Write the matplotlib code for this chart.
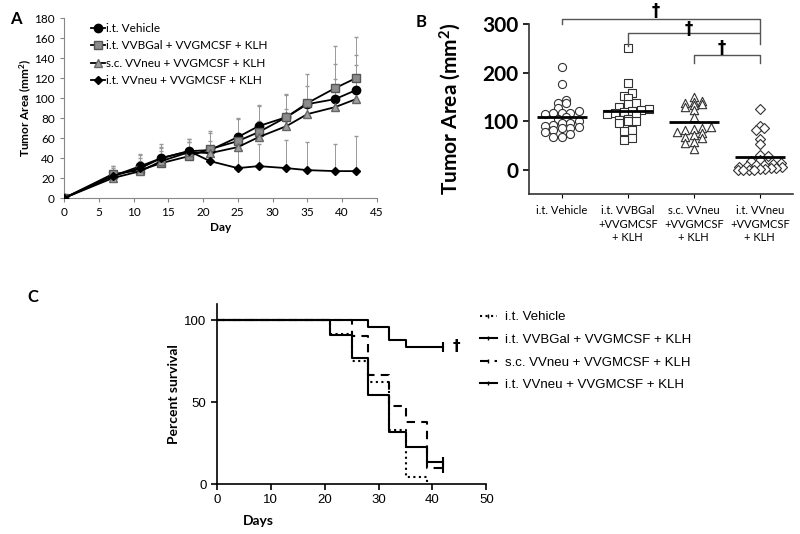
import numpy as np
import matplotlib
matplotlib.use('Agg')
import matplotlib.pyplot as plt
from matplotlib.lines import Line2D

plt.rcParams['font.family'] = ['Lato', 'DejaVu Sans']
plt.rcParams['mathtext.default'] = 'regular'

# ---- Panel A: tumor growth over time ----
days = [0, 7, 11, 14, 18, 21, 25, 28, 32, 35, 39, 42]
growth_labels = ['i.t. Vehicle', 'i.t. VVBGal + VVGMCSF + KLH',
                 's.c. VVneu + VVGMCSF + KLH', 'i.t. VVneu + VVGMCSF + KLH']
veh_mean = [0, 22, 32, 40, 47, 48, 61, 72, 81, 94, 99, 108]
veh_err = [0, 10, 12, 14, 12, 17, 18, 20, 22, 18, 35, 35]
bgal_mean = [0, 24, 28, 35, 42, 49, 57, 66, 81, 95, 110, 120]
bgal_err = [0, 8, 15, 16, 17, 18, 23, 27, 23, 29, 42, 41]
scneu_mean = [0, 20, 27, 37, 46, 45, 51, 61, 72, 84, 91, 99]
scneu_err = [0, 8, 10, 10, 10, 12, 14, 16, 17, 14, 28, 34]
itneu_mean = [0, 22, 30, 40, 47, 37, 30, 32, 30, 28, 27, 27]
itneu_err = [0, 8, 10, 10, 9, 10, 20, 22, 28, 28, 27, 35]

# ---- Panel B: tumor area per mouse ----
group_labels = ['i.t. Vehicle', 'i.t. VVBGal\n+VVGMCSF\n+ KLH',
                's.c. VVneu\n+VVGMCSF\n+ KLH', 'i.t. VVneu\n+VVGMCSF\n+ KLH']
area_vehicle = [211, 176, 143, 138, 137, 126, 121, 116, 116, 116, 114, 109, 105,
                100, 97, 95, 92, 90, 88, 85, 85, 81, 78, 74, 68, 67]
area_bgal = [250, 179, 157, 152, 148, 137, 135, 130, 125, 122, 120, 118, 116,
             115, 112, 105, 102, 100, 100, 97, 82, 80, 65, 60]
area_scneu = [150, 142, 140, 138, 136, 134, 130, 122, 108, 88, 86, 84, 82, 78,
              75, 72, 68, 65, 56, 54, 42]
area_itneu = [124, 90, 85, 81, 64, 52, 30, 28, 20, 18, 14, 12, 10, 9, 8, 6, 5,
              4, 3, 2, 1, 0, 0, 0, 0]

# ---- Panel C: survival ----
surv_labels = ['i.t. Vehicle', 'i.t. VVBGal + VVGMCSF + KLH',
               's.c. VVneu + VVGMCSF + KLH', 'i.t. VVneu + VVGMCSF + KLH']
veh_t = [0, 21, 25, 28, 32, 35, 39]
veh_s = [100, 91.7, 75, 62.5, 33.3, 4.2, 0]
bgal_t = [0, 21, 25, 28, 32, 35, 39, 42]
bgal_s = [100, 90.9, 77.3, 54.5, 31.8, 22.7, 13.6, 13.6]
scneu_t = [0, 25, 28, 32, 35, 39, 42]
scneu_s = [100, 90.5, 66.7, 47.6, 38.1, 9.5, 9.5]
itneu_t = [0, 28, 32, 35, 42]
itneu_s = [100, 96, 88, 84, 84]


def binned_scatter(vals, binw, ppx, step=8.5, maxw=44.0):
    # GraphPad-like layout: points in the same y bin sit side by side
    vals = np.asarray(vals, float)
    bins = np.floor(vals / binw + 0.5)
    offs = np.zeros(len(vals))
    for b in np.unique(bins):
        idx = np.where(bins == b)[0]
        idx = idx[np.argsort(vals[idx])]
        n = len(idx)
        st = step if n < 2 else min(step, maxw / (n - 1))
        offs[idx] = (np.arange(n) - (n - 1) / 2.0) * st / ppx
    return offs


fig = plt.figure(figsize=(8, 5.34), dpi=100)

# ===== A =====
axA = fig.add_axes([0.08, 0.629, 0.391, 0.337])
styles = [dict(marker='o', mfc='black', mec='black', ms=6),
          dict(marker='s', mfc='#8c8c8c', mec='#555555', ms=6),
          dict(marker='^', mfc='#a0a0a0', mec='#666666', ms=6),
          dict(marker='D', mfc='black', mec='black', ms=4.5)]
series = [(veh_mean, veh_err), (bgal_mean, bgal_err),
          (scneu_mean, scneu_err), (itneu_mean, itneu_err)]
handles = []
for (m, e), st, lab in zip(series, styles, growth_labels):
    axA.errorbar(days, m, yerr=[np.zeros(len(e)), e], fmt='none',
                 ecolor='#999999', elinewidth=0.7, capsize=1.5, zorder=1)
    h, = axA.plot(days, m, color='black', lw=1.3, label=lab, zorder=3, **st)
    handles.append(h)
axA.set_xlim(0, 45)
axA.set_ylim(0, 180)
axA.set_xticks(range(0, 46, 5))
axA.set_yticks(range(0, 181, 20))
for s in ['top', 'right']:
    axA.spines[s].set_visible(False)
for s in ['left', 'bottom']:
    axA.spines[s].set_color('#888888')
axA.tick_params(direction='out', length=3, color='#888888', labelsize=8.5)
axA.set_xlabel('Day', fontsize=8.5, fontweight='bold')
axA.xaxis.set_label_coords(0.5, -0.13)
axA.set_ylabel('Tumor Area (mm$^2$)', fontsize=8.5, fontweight='bold')
axA.yaxis.set_label_coords(-0.095, 0.5)
axA.legend(handles=handles, loc='upper left', bbox_to_anchor=(0.085, 0.975),
           frameon=False, fontsize=8.5, handlelength=1.2, handletextpad=0.1,
           labelspacing=0.55, borderaxespad=0, borderpad=0, numpoints=1)
fig.text(0.012, 0.965, 'A', fontsize=12, fontweight='bold', va='center')

# ===== B =====
axB = fig.add_axes([0.661, 0.637, 0.33, 0.318])
groups = [area_vehicle, area_bgal, area_scneu, area_itneu]
mk = ['o', 's', '^', 'D']
msz = [34, 30, 36, 26]
ppx = 0.33 * 800 / 4.0
for i, (g, m, s) in enumerate(zip(groups, mk, msz)):
    xo = binned_scatter(g, 12, ppx)
    axB.scatter(i + xo, g, marker=m, s=s, facecolor='white',
                edgecolor='#333333', linewidth=0.8, zorder=2)
    axB.hlines(np.mean(g), i - 0.38, i + 0.38, color='black', lw=2, zorder=3)
axB.set_xlim(-0.5, 3.5)
axB.set_ylim(-50, 300)
axB.set_yticks([0, 100, 200, 300])
axB.set_xticks(range(4))
axB.set_xticklabels(group_labels, fontsize=8, linespacing=1.3)
for lab in axB.get_yticklabels():
    lab.set_fontweight('bold')
axB.tick_params(axis='y', labelsize=15, length=4, width=1.2)
axB.tick_params(axis='x', length=3, pad=5)
for s in ['top', 'right']:
    axB.spines[s].set_visible(False)
for s in ['left', 'bottom']:
    axB.spines[s].set_linewidth(1.2)
    axB.spines[s].set_color('#333333')
axB.set_ylabel('Tumor Area (mm$^2$)', fontsize=15, fontweight='bold')
axB.yaxis.set_label_coords(-0.25, 0.5)
# significance brackets
brackets = [(0, 3, 310, 300, 283, 326), (1, 3, 281, 255, 258, 290),
            (2, 3, 237, 220, 220, 250)]
for x0, x1, y, yl, yr, yd in brackets:
    axB.plot([x0, x0, x1, x1], [yl, y, y, yr], color='#555555', lw=1,
             clip_on=False)
    axB.text((x0 + x1) / 2 - 0.08, yd, '\u2020', ha='center', va='center',
             fontsize=12, fontweight='bold', family='DejaVu Sans')
fig.text(0.519, 0.958, 'B', fontsize=12, fontweight='bold', va='center')

# ===== C =====
axC = fig.add_axes([0.271, 0.0936, 0.337, 0.337])
curves = [(veh_t, veh_s, ':', False), (bgal_t, bgal_s, '-', True),
          (scneu_t, scneu_s, (0, (4, 3)), True), (itneu_t, itneu_s, '-', True)]
hC = []
for (t, sv, ls, cens), lab in zip(curves, surv_labels):
    axC.step(t, sv, where='post', color='black', lw=1.5, ls=ls)
    if cens:
        axC.plot([t[-1]], [sv[-1]], marker='|', ms=7, mew=1.5, color='black',
                 ls='none')
    hC.append(Line2D([], [], color='black', lw=1.5, ls=ls, marker='|', ms=3,
                     mew=1))
axC.text(44.5, 84, '\u2020', fontsize=11, fontweight='bold', ha='center',
         va='center', family='DejaVu Sans')
axC.set_xlim(0, 50)
axC.set_ylim(0, 110)
axC.set_xticks(range(0, 51, 10))
axC.set_yticks([0, 50, 100])
for s in ['top', 'right']:
    axC.spines[s].set_visible(False)
for s in ['left', 'bottom']:
    axC.spines[s].set_linewidth(1.2)
axC.tick_params(direction='out', length=4, width=1.2, labelsize=9.5)
for lab in axC.get_xticklabels() + axC.get_yticklabels():
    lab.set_family('Liberation Sans')
axC.set_xlabel('Days', fontsize=10, fontweight='bold')
axC.xaxis.set_label_coords(0.153, -0.17)
axC.set_ylabel('Percent survival', fontsize=10, fontweight='bold')
axC.yaxis.set_label_coords(-0.135, 0.5)
axC.legend(hC, surv_labels, loc='upper left', bbox_to_anchor=(0.975, 0.96),
           frameon=False, prop={'family': 'Liberation Sans', 'size': 9.5},
           handlelength=1.3, handletextpad=0.6, labelspacing=0.78,
           borderaxespad=0, borderpad=0, numpoints=1)
fig.text(0.034, 0.444, 'C', fontsize=12, fontweight='bold', va='center')

fig.savefig('out.png', dpi=100)
